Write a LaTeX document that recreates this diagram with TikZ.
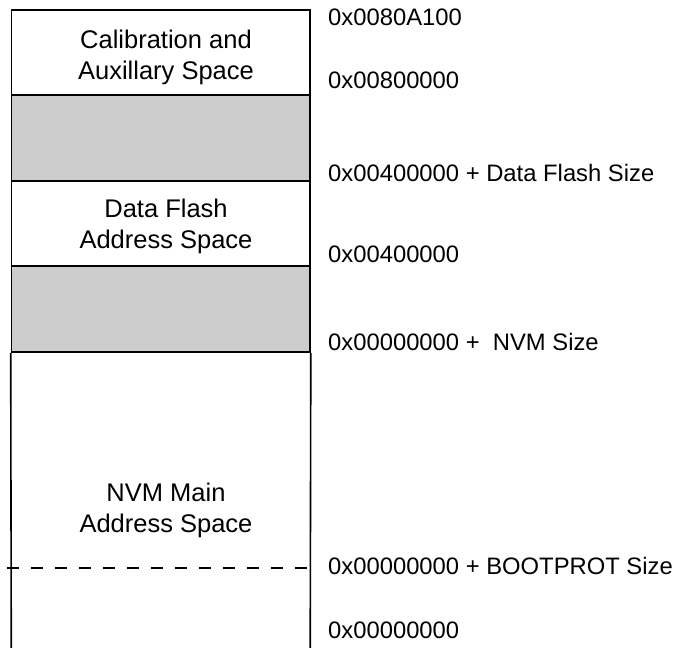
\documentclass[tikz,border=0pt]{standalone}
\usepackage{fontspec}
\setmainfont{Liberation Sans}
\definecolor{holegray}{RGB}{204,204,204}
\begin{document}
\begin{tikzpicture}[x=1pt,y=-1pt,
  region/.style={draw=black, line width=1.6pt, minimum width=298.5pt, inner sep=0pt},
  hole/.style={region, fill=holegray},
  boxtext/.style={inner sep=0pt, align=center, font=\fontsize{25.5}{31}\selectfont},
  addr/.style={anchor=base west, inner sep=0pt, font=\fontsize{23.8}{28}\selectfont},
  side/.style={line width=1.6pt},
  bootline/.style={line width=1.2pt, dash pattern=on 12pt off 12pt}]
\useasboundingbox (0,0) rectangle (678,648);
% regions
\node[region, minimum height=85pt] (calib) at (160.75,52.5) {};
\node[hole, minimum height=86pt] (gap1) at (160.75,138) {};
\node[region, minimum height=85pt] (dflash) at (160.75,223.5) {};
\node[hole, minimum height=86pt] (gap2) at (160.75,309) {};
\node[minimum width=298.5pt, minimum height=306pt, inner sep=0pt] (nvm) at (160.75,505) {};
\draw[side] (gap2.south west) -- (nvm.south west);
\draw[side] (gap2.south east) -- (nvm.south east);
% region texts
\node[boxtext] (calibtxt) at (166,57.9) {Calibration and\\Auxillary Space};
\node[boxtext] (dflashtxt) at (166,226.4) {Data Flash\\Address Space};
\node[boxtext] (nvmtxt) at (166,510.5) {NVM Main\\Address Space};
% bootprot boundary
\coordinate (bootstart) at (7,568);
\draw[bootline] (bootstart) -- (nvm.east |- bootstart);
% address labels
\node[addr] (a1) at (328,25) {0x0080A100};
\node[addr] (a2) at (328,88) {0x00800000};
\node[addr] (a3) at (328,181) {0x00400000 + Data Flash Size};
\node[addr] (a4) at (328,262) {0x00400000};
\node[addr] (a5) at (328,350) {0x00000000 + \ NVM Size};
\node[addr] (a6) at (328,574) {0x00000000 + BOOTPROT Size};
\node[addr] (a7) at (328,638) {0x00000000};
\end{tikzpicture}
\end{document}
